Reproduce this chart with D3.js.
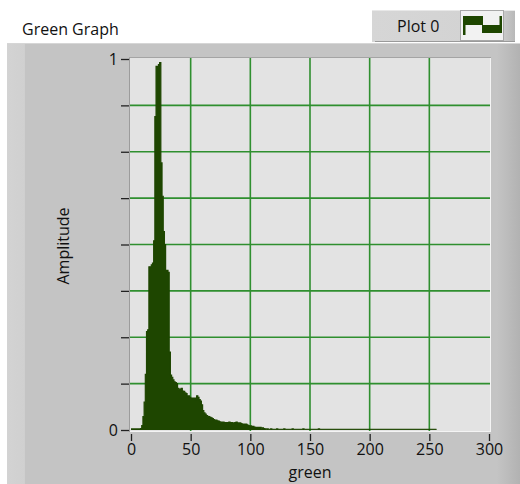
<!DOCTYPE html>
<html><head><meta charset="utf-8">
<script src="https://cdn.jsdelivr.net/npm/d3@7"></script>
<style>
html,body{margin:0;padding:0;background:#fff;}
svg{display:block;}
text{font-family:"Open Sans",sans-serif;fill:#111;}
</style></head>
<body>
<svg id="chart" width="520" height="484"></svg>
<script>
// ---- data ----
const chartTitle = "Green Graph";
const legendLabel = "Plot 0";
const xLabel = "green";
const yLabel = "Amplitude";
const xTicks = [0, 50, 100, 150, 200, 250, 300];
const yTickLabels = [0, 1];
const yMinorTicks = [0.125, 0.25, 0.375, 0.5, 0.625, 0.75, 0.875];
// histogram amplitude for green levels 0..255
const amplitude = [
0.003,0.003,0.003,0.003,0.003,0.003,0.003,0.003,0.004,0.012,
0.036,0.075,0.15,0.265,0.27,0.44,0.44,0.445,0.45,0.51,
0.845,0.98,0.98,0.985,0.99,0.72,0.63,0.535,0.50,0.43,
0.43,0.425,0.21,0.148,0.142,0.135,0.13,0.128,0.125,0.112,
0.11,0.108,0.112,0.105,0.104,0.10,0.098,0.09,0.092,0.088,
0.085,0.086,0.084,0.086,0.082,0.092,0.088,0.082,0.078,0.068,
0.052,0.046,0.043,0.039,0.037,0.036,0.034,0.033,0.031,0.028,
0.027,0.027,0.025,0.024,0.022,0.021,0.02,0.021,0.019,0.02,
0.019,0.02,0.021,0.019,0.02,0.018,0.019,0.02,0.021,0.019,
0.018,0.019,0.017,0.016,0.016,0.015,0.016,0.014,0.012,0.01,
0.011,0.009,0.01,0.008,0.007,0.006,0.007,0.006,0.007,0.005,
0.006,0.004,0.003,0.002,0.003,0.002,0.002,0.003,0.002,0.002,
0.002,0.002,0.003,0.002,0.002,0.002,0.002,0.002,0.003,0.002,
0.002,0.002,0.002,0.002,0.002,0.003,0.002,0.002,0.002,0.002,
0.002,0.002,0.002,0.002,0.003,0.002,0.002,0.002,0.002,0.002,
0.002,0.002,0.002,0.002,0.002,0.002,0.002,0.003,0.002,0.002,
0.002,0.002,0.002,0.002,0.002,0.002,0.002,0.002,0.002,0.002,
0.002,0.002,0.002,0.002,0.002,0.002,0.002,0.002,0.002,0.002,
0.002,0.002,0.002,0.002,0.002,0.002,0.002,0.002,0.002,0.002,
0.002,0.002,0.002,0.002,0.002,0.002,0.002,0.002,0.002,0.002,
0.002,0.002,0.002,0.002,0.002,0.002,0.002,0.002,0.002,0.002,
0.002,0.002,0.002,0.002,0.002,0.002,0.002,0.002,0.002,0.002,
0.002,0.002,0.002,0.002,0.002,0.002,0.002,0.002,0.002,0.002,
0.002,0.002,0.002,0.002,0.002,0.002,0.002,0.002,0.002,0.002,
0.002,0.002,0.002,0.002,0.002,0.002,0.002,0.002,0.002,0.002,
0.002,0.002,0.002,0.002,0.002,0.002
];

// ---- layout ----
const svg = d3.select("#chart");
const plotL = 130, plotR = 490, plotT = 58, plotB = 431;
const x = d3.scaleLinear().domain([0, 300]).range([131, 489]);
const y = d3.scaleLinear().domain([0, 1]).range([430, 59]);
const plotColor = "#1e4600";
const gridColor = "#2f8f2f";

// white background
svg.append("rect").attr("width",520).attr("height",484).attr("fill","#fff");

// graph panel
const defs = svg.append("defs");
const grad = defs.append("linearGradient").attr("id","panelGrad").attr("x1","0").attr("x2","1").attr("y1","0").attr("y2","0");
grad.append("stop").attr("offset","0%").attr("stop-color","#d3d3d3");
grad.append("stop").attr("offset","3.4%").attr("stop-color","#d0d0d0");
grad.append("stop").attr("offset","3.6%").attr("stop-color","#c4c4c4");
grad.append("stop").attr("offset","95.5%").attr("stop-color","#c4c4c4");
grad.append("stop").attr("offset","100%").attr("stop-color","#b2b2b2");
svg.append("rect").attr("x",7).attr("y",43).attr("width",513).attr("height",441).attr("fill","url(#panelGrad)");
svg.append("line").attr("x1",7).attr("x2",520).attr("y1",43.5).attr("y2",43.5).attr("stroke","#d6d6d6");

// title
svg.append("text").attr("x",22).attr("y",35).attr("font-size",16).text(chartTitle);

// legend
const lg = svg.append("g");
const lgrad = defs.append("linearGradient").attr("id","legGrad").attr("x1","0").attr("x2","1");
lgrad.append("stop").attr("offset","0%").attr("stop-color","#d6d6d6");
lgrad.append("stop").attr("offset","88%").attr("stop-color","#d2d2d2");
lgrad.append("stop").attr("offset","100%").attr("stop-color","#b8b8b8");
lg.append("rect").attr("x",372).attr("y",10).attr("width",143).attr("height",32).attr("fill","url(#legGrad)");
lg.append("line").attr("x1",372).attr("x2",515).attr("y1",10.5).attr("y2",10.5).attr("stroke","#e8e8e8");
lg.append("line").attr("x1",375).attr("x2",515).attr("y1",41.5).attr("y2",41.5).attr("stroke","#9a9a9a");
lg.append("text").attr("x",397).attr("y",32).attr("font-size",16).text(legendLabel);
lg.append("rect").attr("x",460.5).attr("y",10.5).attr("width",43).attr("height",30).attr("fill","#f2f2f2").attr("stroke","#a8a8a8");
lg.append("rect").attr("x",463).attr("y",16).attr("width",20).attr("height",9).attr("fill",plotColor);
lg.append("rect").attr("x",482).attr("y",25).attr("width",20).attr("height",8).attr("fill",plotColor);
lg.append("rect").attr("x",463).attr("y",16).attr("width",2.5).attr("height",19).attr("fill",plotColor);
lg.append("rect").attr("x",499.5).attr("y",16).attr("width",2.5).attr("height",17).attr("fill",plotColor);

// plot area
svg.append("rect").attr("x",plotL).attr("y",plotT).attr("width",plotR-plotL).attr("height",plotB-plotT).attr("fill","#e3e3e3");
svg.append("line").attr("x1",plotR+0.5).attr("x2",plotR+0.5).attr("y1",plotT).attr("y2",plotB+1).attr("stroke","#f4f4f4");
svg.append("line").attr("x1",plotL).attr("x2",plotR+1).attr("y1",plotB+0.5).attr("y2",plotB+0.5).attr("stroke","#f4f4f4");
svg.append("line").attr("x1",plotL-0.5).attr("x2",plotL-0.5).attr("y1",plotT-1).attr("y2",plotB+1).attr("stroke","#9c9c9c");
svg.append("line").attr("x1",plotL-1).attr("x2",plotR+1).attr("y1",plotT-0.5).attr("y2",plotT-0.5).attr("stroke","#a4a4a4");

// grid
const grid = svg.append("g");
grid.selectAll("line.v").data(xTicks.filter(d => d > 0 && d < 300)).join("line")
  .attr("x1", d => x(d)).attr("x2", d => x(d)).attr("y1", plotT).attr("y2", plotB)
  .attr("stroke", gridColor).attr("stroke-width", 1.6);
grid.selectAll("line.h").data(yMinorTicks).join("line")
  .attr("x1", plotL).attr("x2", plotR).attr("y1", d => y(d)).attr("y2", d => y(d))
  .attr("stroke", gridColor).attr("stroke-width", 1.6);

// histogram
const pts = amplitude.map((a, i) => [i, a]);
pts.push([amplitude.length, amplitude[amplitude.length - 1]]);
const area = d3.area().x(d => x(d[0])).y0(y(0)).y1(d => y(d[1])).curve(d3.curveStepAfter);
const line = d3.line().x(d => x(d[0])).y(d => y(d[1])).curve(d3.curveStepAfter);
svg.append("path").datum(pts).attr("d", area).attr("fill", plotColor);
svg.append("path").datum(pts).attr("d", line).attr("fill", "none").attr("stroke", plotColor).attr("stroke-width", 1.2);

// axes
const xAxis = d3.axisBottom(x).tickValues(xTicks).tickSize(7).tickPadding(3);
const gx = svg.append("g").attr("transform", `translate(0,${plotB + 3})`).call(xAxis);
gx.select(".domain").remove();
gx.selectAll(".tick line").attr("stroke", "#222").attr("stroke-width", 1.3);
gx.selectAll(".tick text").attr("font-size", 16).attr("font-family", '"Open Sans",sans-serif').attr("fill", "#111");

const yAxis = d3.axisLeft(y).tickValues(yTickLabels.concat(yMinorTicks)).tickSize(8).tickPadding(3)
  .tickFormat(d => yTickLabels.includes(d) ? d3.format("d")(d) : "");
const gy = svg.append("g").attr("transform", `translate(${plotL - 1},0)`).call(yAxis);
gy.select(".domain").remove();
gy.selectAll(".tick line").attr("stroke", "#222").attr("stroke-width", 1.3);
gy.selectAll(".tick text").attr("font-size", 16).attr("font-family", '"Open Sans",sans-serif').attr("fill", "#111");

// axis titles
svg.append("text").attr("transform", "translate(69,246) rotate(-90)").attr("text-anchor", "middle").attr("font-size", 16).text(yLabel);
svg.append("text").attr("x", 310).attr("y", 478).attr("text-anchor", "middle").attr("font-size", 16).text(xLabel);
</script>
</body></html>
